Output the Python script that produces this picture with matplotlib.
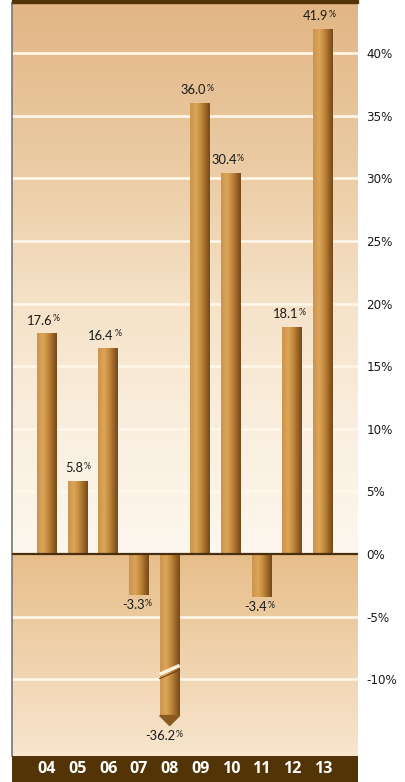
import numpy as np
import matplotlib
matplotlib.use("Agg")
import matplotlib.pyplot as plt
from matplotlib.colors import LinearSegmentedColormap

# ── Datos ─────────────────────────────────────────────────────────────────────
anios   = ["04", "05", "06", "07", "08", "09", "10", "11", "12", "13"]
valores = [17.6, 5.8, 16.4, -3.3, -36.2, 36.0, 30.4, -3.4, 18.1, 41.9]
ticks_y = [40, 35, 30, 25, 20, 15, 10, 5, 0, -5, -10]

# ── Estilo ────────────────────────────────────────────────────────────────────
W, H = 405, 782
Y_MIN, Y_MAX = -16.13, 44.0
X_MIN, X_MAX = -1.14, 10.14
ANCHO = 0.65
CORTE = -12.9          # la barra del 08 se corta aquí (escala rota)
PUNTA = 0.8
FUENTE = ["Lato", "DejaVu Sans"]
COLOR_BANDA = "#533406"

cmap_barra = LinearSegmentedColormap.from_list("barra", [
    (0.00, (0.80, 0.58, 0.30)),
    (0.30, (0.86, 0.65, 0.35)),
    (0.55, (0.77, 0.54, 0.24)),
    (0.80, (0.60, 0.39, 0.15)),
    (1.00, (0.46, 0.29, 0.10)),
])

def fondo():
    """Degradado vertical del fondo (arriba tostado, cerca de 0 claro)."""
    ys = np.linspace(Y_MAX, Y_MIN, 600)
    arriba = [(44, (226, 182, 134)), (30, (236, 205, 166)), (20, (245, 226, 200)),
              (10, (250, 239, 223)), (0.01, (253, 247, 238))]
    abajo = [(0, (231, 190, 138)), (-8, (239, 210, 172)), (Y_MIN, (248, 229, 206))]
    img = np.zeros((len(ys), 1, 3))
    for i, y in enumerate(ys):
        stops = arriba if y > 0 else abajo
        vy = [s[0] for s in stops][::-1]
        for c in range(3):
            vc = [s[1][c] for s in stops][::-1]
            img[i, 0, c] = np.interp(y, vy, vc) / 255
    return img

fig = plt.figure(figsize=(W / 100, H / 100), dpi=100)
fig.patch.set_facecolor("white")
ax = fig.add_axes([12 / W, 26 / H, 346 / W, 753 / H])

ax.imshow(fondo(), extent=[X_MIN, X_MAX, Y_MIN, Y_MAX], aspect="auto", zorder=0)

for t in ticks_y:
    if t != 0:
        ax.axhline(t, color="#fff7ea", lw=1.9, zorder=1)

grad = np.linspace(0, 1, 64).reshape(1, -1)
for i, v in enumerate(valores):
    x0, x1 = i - ANCHO / 2, i + ANCHO / 2
    fin = max(v, CORTE)
    ax.imshow(grad, cmap=cmap_barra, extent=[x0, x1, 0, fin], aspect="auto", zorder=2)
    if v < CORTE:
        ax.fill([x0, x1, i], [fin, fin, fin - PUNTA], color="#8a5a22", zorder=2)
        ax.plot([x0, x1], [-9.6, -8.9], color="#fff3dc", lw=2.5, zorder=3,
                solid_capstyle="butt")
        ax.plot([x0, x1], [-9.95, -9.25], color="#6a4214", lw=0.8, zorder=3)
    # etiqueta: número y "%" más pequeño, alineado arriba
    if v >= 0:
        y_txt, va, dy, dp = v, "baseline", 6.5, 9.0
    else:
        y_txt, va, dy, dp = fin - (PUNTA if v < CORTE else 0), "top", -3, -3
    ax.annotate(f"{v:.1f}", (i, y_txt), xytext=(4, dy), textcoords="offset points",
                ha="right", va=va, fontsize=9.3, family=FUENTE, color="#1a1a1a")
    ax.annotate("%", (i, y_txt), xytext=(4.3, dp), textcoords="offset points",
                ha="left", va=va, fontsize=6.3, family=FUENTE, color="#1a1a1a")

ax.axhline(0, color="#4a2e10", lw=1.6, zorder=4)

ax.set_xlim(X_MIN, X_MAX)
ax.set_ylim(Y_MIN, Y_MAX)
ax.set_xticks([])
ax.yaxis.tick_right()
ax.set_yticks(ticks_y)
ax.set_yticklabels([f"{t}%" for t in ticks_y],
                   family=["Liberation Sans Narrow", "DejaVu Sans"],
                   fontstretch="condensed", fontsize=9.5, color="#1a1a1a")
ax.tick_params(axis="y", length=0, pad=6)
for lado in ["top", "right", "bottom"]:
    ax.spines[lado].set_visible(False)
ax.spines["left"].set_color("#777777")
ax.spines["left"].set_linewidth(1.2)

# banda superior
fig.patches.append(plt.Rectangle((12 / W, 1 - 3 / H), 346 / W, 3 / H,
                                 transform=fig.transFigure, color=COLOR_BANDA))
# banda inferior con los años
ax_b = fig.add_axes([12 / W, 0, 346 / W, 26 / H])
ax_b.set_xlim(X_MIN, X_MAX)
ax_b.set_ylim(0, 1)
ax_b.axis("off")
ax_b.add_patch(plt.Rectangle((X_MIN, 0), X_MAX - X_MIN, 1, color=COLOR_BANDA, zorder=0))
for i, a in enumerate(anios):
    ax_b.text(i, 0.5, a, ha="center", va="center", color="white", fontsize=11.5,
              fontweight="bold", family=["Open Sans", "DejaVu Sans"])

fig.savefig("out.png", dpi=100)
